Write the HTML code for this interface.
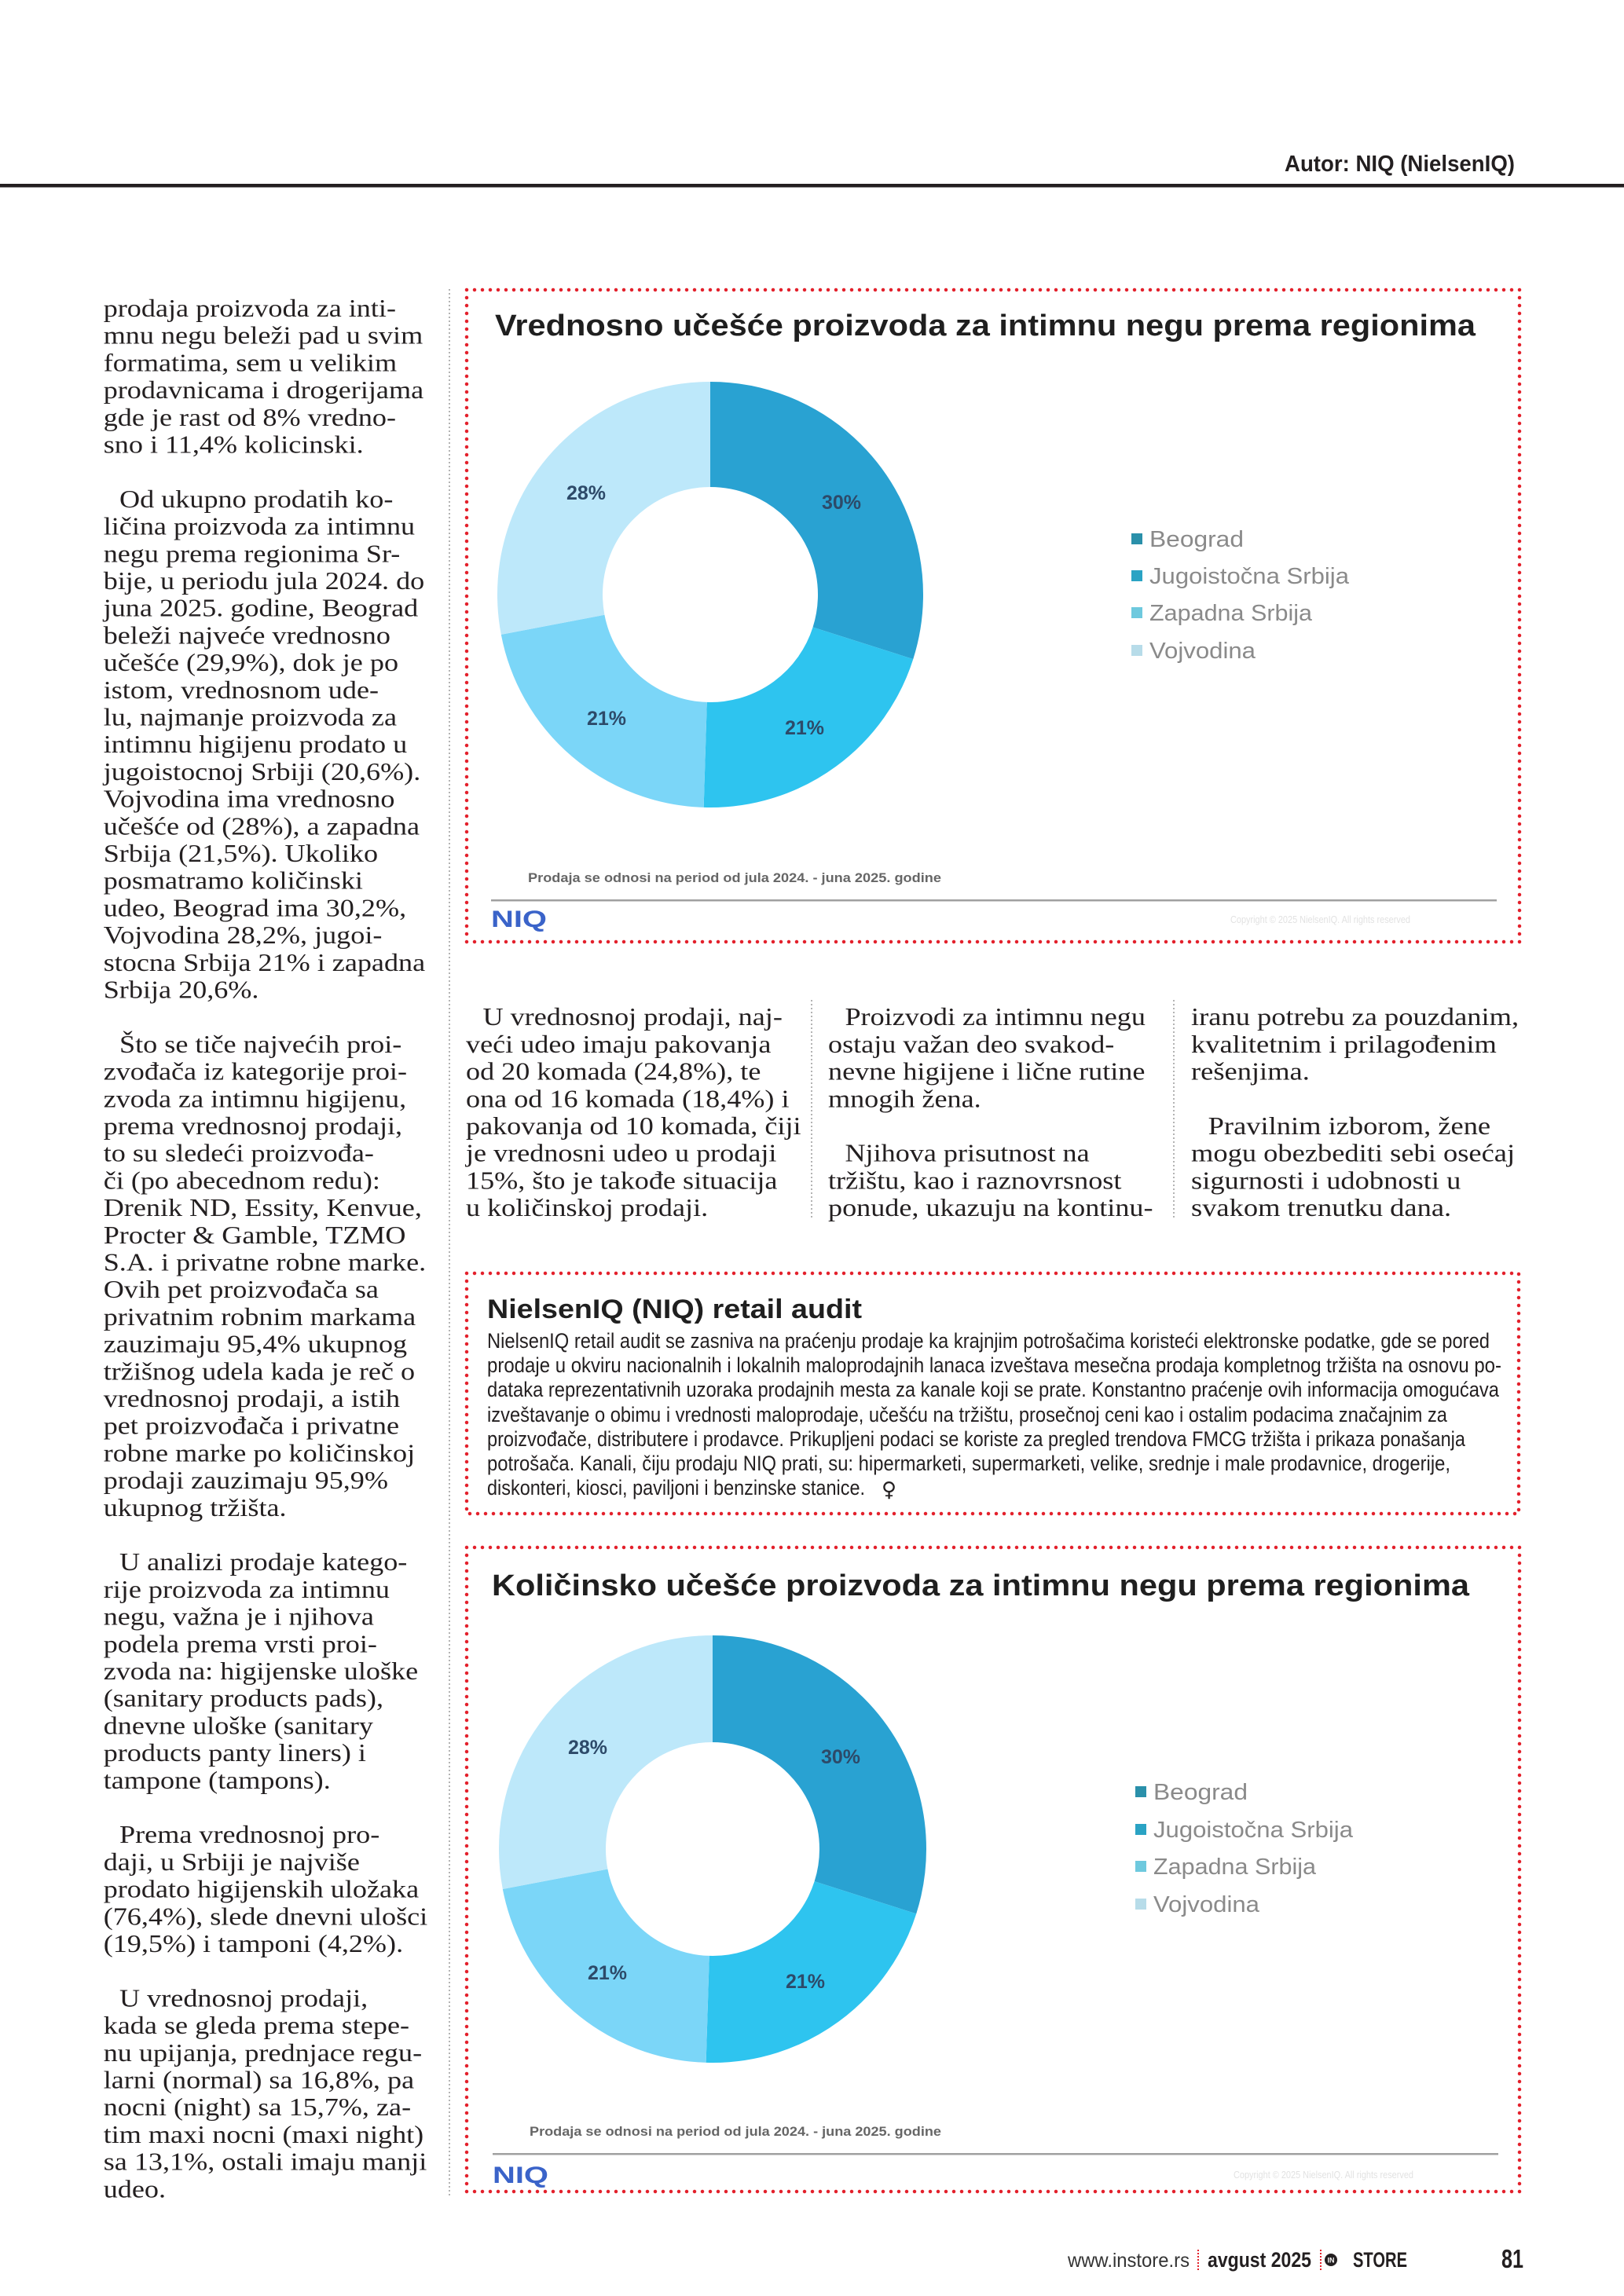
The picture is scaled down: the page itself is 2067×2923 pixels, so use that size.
<!DOCTYPE html>
<html>
<head>
<meta charset="utf-8">
<style>
html,body{margin:0;padding:0;background:#fff;}
body{width:2067px;height:2923px;overflow:hidden;position:relative;}
svg{display:block;}
.serif{font-family:"Liberation Serif",serif;font-size:32px;fill:#231f20;}
.sans{font-family:"Liberation Sans",sans-serif;}
</style>
</head>
<body>
<svg width="2067" height="2923" viewBox="0 0 2067 2923" xmlns="http://www.w3.org/2000/svg">
<rect x="0" y="0" width="2067" height="2923" fill="#fff"/>

<!-- Header -->
<text class="sans" x="1635" y="218" font-size="29" font-weight="bold" fill="#231f20" textLength="293" lengthAdjust="spacingAndGlyphs">Autor: NIQ (NielsenIQ)</text>
<rect x="0" y="234" width="2067" height="4.5" fill="#231f20"/>

<!-- Left column separator -->
<line x1="572" y1="368" x2="572" y2="2798" stroke="#9a9a9a" stroke-width="1.5" stroke-dasharray="2 3"/>

<!-- Left column text -->
<g class="serif" transform="translate(131.7 0) scale(1.13 1)">
<text x="0" y="403">prodaja proizvoda za inti-</text>
<text x="0" y="437.7">mnu negu beleži pad u svim</text>
<text x="0" y="472.4">formatima, sem u velikim</text>
<text x="0" y="507.1">prodavnicama i drogerijama</text>
<text x="0" y="541.8">gde je rast od 8% vredno-</text>
<text x="0" y="576.5">sno i 11,4% kolicinski.</text>
<text x="18" y="645.9">Od ukupno prodatih ko-</text>
<text x="0" y="680.6">ličina proizvoda za intimnu</text>
<text x="0" y="715.3">negu prema regionima Sr-</text>
<text x="0" y="750">bije, u periodu jula 2024. do</text>
<text x="0" y="784.7">juna 2025. godine, Beograd</text>
<text x="0" y="819.4">beleži najveće vrednosno</text>
<text x="0" y="854.1">učešće (29,9%), dok je po</text>
<text x="0" y="888.8">istom, vrednosnom ude-</text>
<text x="0" y="923.5">lu, najmanje proizvoda za</text>
<text x="0" y="958.2">intimnu higijenu prodato u</text>
<text x="0" y="992.9">jugoistocnoj Srbiji (20,6%).</text>
<text x="0" y="1027.6">Vojvodina ima vrednosno</text>
<text x="0" y="1062.3">učešće od (28%), a zapadna</text>
<text x="0" y="1097">Srbija (21,5%). Ukoliko</text>
<text x="0" y="1131.7">posmatramo količinski</text>
<text x="0" y="1166.4">udeo, Beograd ima 30,2%,</text>
<text x="0" y="1201.1">Vojvodina 28,2%, jugoi-</text>
<text x="0" y="1235.8">stocna Srbija 21% i zapadna</text>
<text x="0" y="1270.5">Srbija 20,6%.</text>
<text x="18" y="1339.9">Što se tiče najvećih proi-</text>
<text x="0" y="1374.6">zvođača iz kategorije proi-</text>
<text x="0" y="1409.3">zvoda za intimnu higijenu,</text>
<text x="0" y="1444">prema vrednosnoj prodaji,</text>
<text x="0" y="1478.7">to su sledeći proizvođa-</text>
<text x="0" y="1513.4">či (po abecednom redu):</text>
<text x="0" y="1548.1">Drenik ND, Essity, Kenvue,</text>
<text x="0" y="1582.8">Procter &amp; Gamble, TZMO</text>
<text x="0" y="1617.5">S.A. i privatne robne marke.</text>
<text x="0" y="1652.2">Ovih pet proizvođača sa</text>
<text x="0" y="1686.9">privatnim robnim markama</text>
<text x="0" y="1721.6">zauzimaju 95,4% ukupnog</text>
<text x="0" y="1756.3">tržišnog udela kada je reč o</text>
<text x="0" y="1791">vrednosnoj prodaji, a istih</text>
<text x="0" y="1825.7">pet proizvođača i privatne</text>
<text x="0" y="1860.4">robne marke po količinskoj</text>
<text x="0" y="1895.1">prodaji zauzimaju 95,9%</text>
<text x="0" y="1929.8">ukupnog tržišta.</text>
<text x="18" y="1999.2">U analizi prodaje katego-</text>
<text x="0" y="2033.9">rije proizvoda za intimnu</text>
<text x="0" y="2068.6">negu, važna je i njihova</text>
<text x="0" y="2103.3">podela prema vrsti proi-</text>
<text x="0" y="2138">zvoda na: higijenske uloške</text>
<text x="0" y="2172.7">(sanitary products pads),</text>
<text x="0" y="2207.4">dnevne uloške (sanitary</text>
<text x="0" y="2242.1">products panty liners) i</text>
<text x="0" y="2276.8">tampone (tampons).</text>
<text x="18" y="2346.2">Prema vrednosnoj pro-</text>
<text x="0" y="2380.9">daji, u Srbiji je najviše</text>
<text x="0" y="2415.6">prodato higijenskih uložaka</text>
<text x="0" y="2450.3">(76,4%), slede dnevni ulošci</text>
<text x="0" y="2485">(19,5%) i tamponi (4,2%).</text>
<text x="18" y="2554.4">U vrednosnoj prodaji,</text>
<text x="0" y="2589.1">kada se gleda prema stepe-</text>
<text x="0" y="2623.8">nu upijanja, prednjace regu-</text>
<text x="0" y="2658.5">larni (normal) sa 16,8%, pa</text>
<text x="0" y="2693.2">nocni (night) sa 15,7%, za-</text>
<text x="0" y="2727.9">tim maxi nocni (maxi night)</text>
<text x="0" y="2762.6">sa 13,1%, ostali imaju manji</text>
<text x="0" y="2797.3">udeo.</text>
</g>

<!-- ===== Chart 1 ===== -->
<rect x="594" y="369" width="1340" height="830" fill="none" stroke="#e3202b" stroke-width="4.5" stroke-dasharray="0 10" stroke-linecap="round"/>
<text class="sans" x="630" y="427" font-size="38" font-weight="bold" fill="#1f1f1f" textLength="1248" lengthAdjust="spacingAndGlyphs">Vrednosno učešće proizvoda za intimnu negu prema regionima</text>

<g transform="rotate(-90 904 757)" fill="none" stroke-width="134">
<circle cx="904" cy="757" r="204" pathLength="100" stroke="#29a2d2" stroke-dasharray="29.9 70.1" stroke-dashoffset="0"/>
<circle cx="904" cy="757" r="204" pathLength="100" stroke="#2ec4ef" stroke-dasharray="20.6 79.4" stroke-dashoffset="-29.9"/>
<circle cx="904" cy="757" r="204" pathLength="100" stroke="#7bd6f8" stroke-dasharray="21.5 78.5" stroke-dashoffset="-50.5"/>
<circle cx="904" cy="757" r="204" pathLength="100" stroke="#bde8fa" stroke-dasharray="28 72" stroke-dashoffset="-72"/>
</g>
<g class="sans" font-size="25" font-weight="bold" fill="#2d4a69" text-anchor="middle">
<text x="1071" y="648">30%</text>
<text x="746" y="636">28%</text>
<text x="1024" y="935">21%</text>
<text x="772" y="923">21%</text>
</g>
<g class="sans" font-size="29" fill="#8a8a8a">
<rect x="1440" y="679" width="14" height="14" fill="#2a90aa"/>
<text x="1463" y="696" textLength="120" lengthAdjust="spacingAndGlyphs">Beograd</text>
<rect x="1440" y="726" width="14" height="14" fill="#2aa3c4"/>
<text x="1463" y="743" textLength="254" lengthAdjust="spacingAndGlyphs">Jugoistočna Srbija</text>
<rect x="1440" y="773" width="14" height="14" fill="#6ec9de"/>
<text x="1463" y="790" textLength="207" lengthAdjust="spacingAndGlyphs">Zapadna Srbija</text>
<rect x="1440" y="821" width="14" height="14" fill="#b7dce9"/>
<text x="1463" y="838" textLength="135" lengthAdjust="spacingAndGlyphs">Vojvodina</text>
</g>
<text class="sans" x="672" y="1123" font-size="17" font-weight="bold" fill="#666" textLength="526" lengthAdjust="spacingAndGlyphs">Prodaja se odnosi na period od jula 2024. - juna 2025. godine</text>
<rect x="625" y="1145" width="1280" height="2.5" fill="#a0a0a0"/>
<text class="sans" x="625" y="1180" font-size="30" font-weight="bold" fill="#3a63c9" textLength="71" lengthAdjust="spacingAndGlyphs">NIQ</text>
<text class="sans" x="1566" y="1175" font-size="13" fill="#e2e2e2" textLength="229" lengthAdjust="spacingAndGlyphs">Copyright © 2025 NielsenIQ. All rights reserved</text>

<!-- ===== Middle columns ===== -->
<line x1="1033" y1="1273" x2="1033" y2="1550" stroke="#9a9a9a" stroke-width="1.5" stroke-dasharray="2 3"/>
<line x1="1494" y1="1273" x2="1494" y2="1550" stroke="#9a9a9a" stroke-width="1.5" stroke-dasharray="2 3"/>
<g class="serif" transform="translate(593 0) scale(1.13 1)">
<text x="19" y="1305.2">U vrednosnoj prodaji, naj-</text>
<text x="0" y="1339.9">veći udeo imaju pakovanja</text>
<text x="0" y="1374.6">od 20 komada (24,8%), te</text>
<text x="0" y="1409.3">ona od 16 komada (18,4%) i</text>
<text x="0" y="1444">pakovanja od 10 komada, čiji</text>
<text x="0" y="1478.7">je vrednosni udeo u prodaji</text>
<text x="0" y="1513.4">15%, što je takođe situacija</text>
<text x="0" y="1548.1">u količinskoj prodaji.</text>
</g>
<g class="serif" transform="translate(1054 0) scale(1.13 1)">
<text x="19" y="1305.2">Proizvodi za intimnu negu</text>
<text x="0" y="1339.9">ostaju važan deo svakod-</text>
<text x="0" y="1374.6">nevne higijene i lične rutine</text>
<text x="0" y="1409.3">mnogih žena.</text>
<text x="19" y="1478.7">Njihova prisutnost na</text>
<text x="0" y="1513.4">tržištu, kao i raznovrsnost</text>
<text x="0" y="1548.1">ponude, ukazuju na kontinu-</text>
</g>
<g class="serif" transform="translate(1516 0) scale(1.14 1)">
<text x="0" y="1305.2">iranu potrebu za pouzdanim,</text>
<text x="0" y="1339.9">kvalitetnim i prilagođenim</text>
<text x="0" y="1374.6">rešenjima.</text>
<text x="19" y="1444">Pravilnim izborom, žene</text>
<text x="0" y="1478.7">mogu obezbediti sebi osećaj</text>
<text x="0" y="1513.4">sigurnosti i udobnosti u</text>
<text x="0" y="1548.1">svakom trenutku dana.</text>
</g>

<!-- ===== Audit box ===== -->
<rect x="594" y="1621" width="1339" height="306" fill="none" stroke="#e3202b" stroke-width="4.5" stroke-dasharray="0 10" stroke-linecap="round"/>
<text class="sans" x="620" y="1678" font-size="34" font-weight="bold" fill="#1f1f1f" textLength="477" lengthAdjust="spacingAndGlyphs">NielsenIQ (NIQ) retail audit</text>
<g class="sans" font-size="27" fill="#231f20">
<text x="620" y="1716" textLength="1276" lengthAdjust="spacingAndGlyphs">NielsenIQ retail audit se zasniva na praćenju prodaje ka krajnjim potrošačima koristeći elektronske podatke, gde se pored</text>
<text x="620" y="1747" textLength="1291" lengthAdjust="spacingAndGlyphs">prodaje u okviru nacionalnih i lokalnih maloprodajnih lanaca izveštava mesečna prodaja kompletnog tržišta na osnovu po-</text>
<text x="620" y="1778" textLength="1288" lengthAdjust="spacingAndGlyphs">dataka reprezentativnih uzoraka prodajnih mesta za kanale koji se prate. Konstantno praćenje ovih informacija omogućava</text>
<text x="620" y="1810" textLength="1222" lengthAdjust="spacingAndGlyphs">izveštavanje o obimu i vrednosti maloprodaje, učešću na tržištu, prosečnoj ceni kao i ostalim podacima značajnim za</text>
<text x="620" y="1841" textLength="1245" lengthAdjust="spacingAndGlyphs">proizvođače, distributere i prodavce. Prikupljeni podaci se koriste za pregled trendova FMCG tržišta i prikaza ponašanja</text>
<text x="620" y="1872" textLength="1226" lengthAdjust="spacingAndGlyphs">potrošača. Kanali, čiju prodaju NIQ prati, su: hipermarketi, supermarketi, velike, srednje i male prodavnice, drogerije,</text>
<text x="620" y="1903" textLength="481" lengthAdjust="spacingAndGlyphs">diskonteri, kiosci, paviljoni i benzinske stanice.</text>
</g>
<text x="1122" y="1905" font-family="DejaVu Sans, sans-serif" font-size="26" fill="#231f20">♀</text>

<!-- ===== Chart 2 ===== -->
<rect x="594" y="1970" width="1340" height="820" fill="none" stroke="#e3202b" stroke-width="4.5" stroke-dasharray="0 10" stroke-linecap="round"/>
<text class="sans" x="626" y="2031" font-size="38" font-weight="bold" fill="#1f1f1f" textLength="1244" lengthAdjust="spacingAndGlyphs">Količinsko učešće proizvoda za intimnu negu prema regionima</text>

<g transform="rotate(-90 907 2354)" fill="none" stroke-width="136">
<circle cx="907" cy="2354" r="204" pathLength="100" stroke="#29a2d2" stroke-dasharray="29.9 70.1" stroke-dashoffset="0"/>
<circle cx="907" cy="2354" r="204" pathLength="100" stroke="#2ec4ef" stroke-dasharray="20.6 79.4" stroke-dashoffset="-29.9"/>
<circle cx="907" cy="2354" r="204" pathLength="100" stroke="#7bd6f8" stroke-dasharray="21.5 78.5" stroke-dashoffset="-50.5"/>
<circle cx="907" cy="2354" r="204" pathLength="100" stroke="#bde8fa" stroke-dasharray="28 72" stroke-dashoffset="-72"/>
</g>
<g class="sans" font-size="25" font-weight="bold" fill="#2d4a69" text-anchor="middle">
<text x="1070" y="2245">30%</text>
<text x="748" y="2233">28%</text>
<text x="1025" y="2531">21%</text>
<text x="773" y="2520">21%</text>
</g>
<g class="sans" font-size="29" fill="#8a8a8a">
<rect x="1445" y="2274" width="14" height="14" fill="#2a90aa"/>
<text x="1468" y="2291" textLength="120" lengthAdjust="spacingAndGlyphs">Beograd</text>
<rect x="1445" y="2322" width="14" height="14" fill="#2aa3c4"/>
<text x="1468" y="2339" textLength="254" lengthAdjust="spacingAndGlyphs">Jugoistočna Srbija</text>
<rect x="1445" y="2369" width="14" height="14" fill="#6ec9de"/>
<text x="1468" y="2386" textLength="207" lengthAdjust="spacingAndGlyphs">Zapadna Srbija</text>
<rect x="1445" y="2417" width="14" height="14" fill="#b7dce9"/>
<text x="1468" y="2434" textLength="135" lengthAdjust="spacingAndGlyphs">Vojvodina</text>
</g>
<text class="sans" x="674" y="2719" font-size="17" font-weight="bold" fill="#666" textLength="524" lengthAdjust="spacingAndGlyphs">Prodaja se odnosi na period od jula 2024. - juna 2025. godine</text>
<rect x="627" y="2741" width="1280" height="2.5" fill="#a0a0a0"/>
<text class="sans" x="627" y="2779" font-size="30" font-weight="bold" fill="#3a63c9" textLength="71" lengthAdjust="spacingAndGlyphs">NIQ</text>
<text class="sans" x="1570" y="2773" font-size="13" fill="#e2e2e2" textLength="229" lengthAdjust="spacingAndGlyphs">Copyright © 2025 NielsenIQ. All rights reserved</text>

<!-- ===== Page footer ===== -->
<text class="sans" x="1359" y="2886" font-size="25" fill="#333" textLength="155" lengthAdjust="spacingAndGlyphs">www.instore.rs</text>
<line x1="1525" y1="2864" x2="1525" y2="2890" stroke="#e3202b" stroke-width="2" stroke-dasharray="2 2"/>
<text class="sans" x="1537" y="2886" font-size="27" font-weight="bold" fill="#231f20" textLength="132" lengthAdjust="spacingAndGlyphs">avgust 2025</text>
<line x1="1681" y1="2864" x2="1681" y2="2890" stroke="#e3202b" stroke-width="2" stroke-dasharray="2 2"/>
<circle cx="1694" cy="2877" r="8" fill="#231f20"/>
<text class="sans" x="1694" y="2880.5" font-size="9" font-weight="bold" fill="#fff" text-anchor="middle">IN</text>
<text class="sans" x="1722" y="2886" font-size="27" font-weight="bold" fill="#231f20" textLength="69" lengthAdjust="spacingAndGlyphs">STORE</text>
<text class="sans" x="1911" y="2887" font-size="33" font-weight="bold" fill="#231f20" textLength="28" lengthAdjust="spacingAndGlyphs">81</text>
</svg>
</body>
</html>
